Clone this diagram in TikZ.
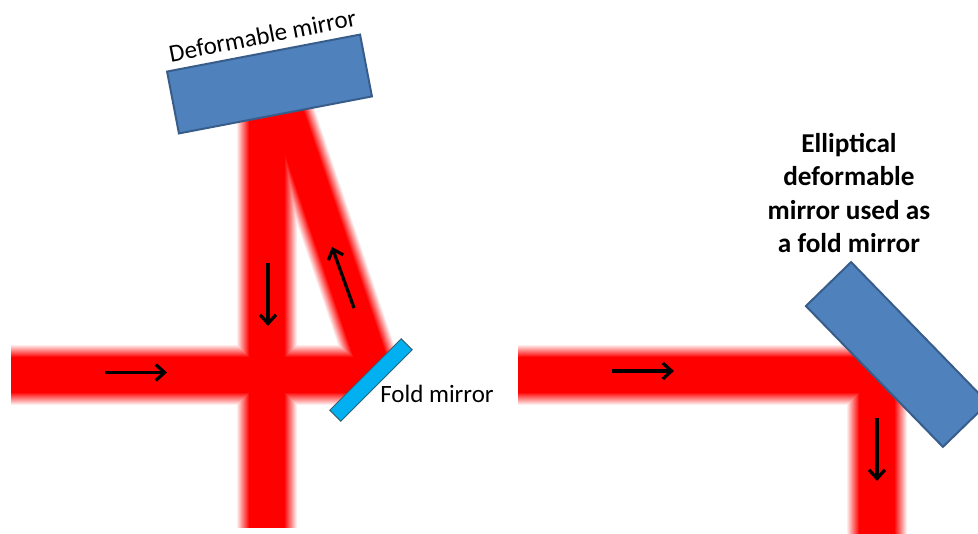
\documentclass[tikz,border=0pt]{standalone}
\usepackage{fontspec}
\setmainfont{Carlito}
\usetikzlibrary{arrows.meta}
\definecolor{mirrorblue}{HTML}{4F81BD}
\definecolor{mirroredge}{HTML}{385D8A}
\definecolor{foldblue}{HTML}{00B0F0}
\definecolor{foldedge}{HTML}{35606F}
\tikzset{
	bigmirror/.style={rectangle, draw=mirroredge, fill=mirrorblue, line width=0.04cm, inner sep=0pt, minimum width=3.93cm, minimum height=1.26cm},
	foldmirror/.style={rectangle, draw=foldedge, fill=foldblue, line width=0.02cm, inner sep=0pt, minimum width=2.02cm, minimum height=0.31cm},
	flow/.style={black, line width=0.065cm, -{Straight Barb[length=5pt, width=9pt, line width=0.065cm]}},
	label/.style={inner sep=0pt, font=\fontsize{14.2pt}{17pt}\selectfont},
	boldlabel/.style={inner sep=0pt, align=center, font=\fontsize{15.5pt}{19pt}\selectfont\bfseries}
}

\begin{document}
\begin{tikzpicture}
	\clip (0, 0) rectangle (19.56, 10.68);

	% beam ends
	\coordinate (inL) at (0.22, 3.18);
	\coordinate (hitL) at (7.60, 3.18);
	\coordinate (topV) at (5.34, 8.68);
	\coordinate (botV) at (5.34, 0.12);
	\coordinate (botS) at (7.56, 3.08);
	\coordinate (topS) at (5.60, 8.88);
	\coordinate (inR) at (10.36, 3.18);
	\coordinate (hitR) at (17.54, 3.18);
	\coordinate (botR) at (17.54, 0);

	% soft edged beams, light layers first
	\foreach \i in {0,...,12} {
		\pgfmathsetmacro{\wide}{1.2-0.04*\i}
		\pgfmathsetmacro{\thin}{1.06-0.035*\i}
		\pgfmathsetmacro{\tint}{100*(\i+1)/13}
		\begin{scope}
			\clip (0, 0) -- (0, 10.68) -- (9.6, 10.68) -- (9.6, 5.48) -- (6, 1.88) -- (6, 0) -- cycle;
			\draw[line width=\wide cm, red!\tint] (inL) -- (hitL);
			\draw[line width=\wide cm, red!\tint] (topV) -- (botV);
			\draw[line width=\thin cm, red!\tint] (botS) -- (topS);
		\end{scope}
		\draw[line width=\wide cm, red!\tint, miter limit=10] (inR) -- (hitR) -- (botR);
	}

	\node (dm)[bigmirror, rotate=10.85] at (5.39, 9.00) {};
	\node (fm)[foldmirror, rotate=45] at (7.42, 3.08) {};
	\node (edm)[bigmirror, rotate=-45.8] at (17.94, 3.59) {};

	\node (dmL)[label, rotate=11] at (5.25, 9.97) {Deformable mirror};
	\node (fmL)[label] at (8.74, 2.80) {Fold mirror};
	\node (edmL)[boldlabel] at (16.98, 6.82) {Elliptical\\deformable\\mirror used as\\a fold mirror};

	% direction arrows
	\coordinate (a1) at (2.10, 3.23);
	\coordinate (a2) at (3.34, 3.23);
	\coordinate (b1) at (12.24, 3.26);
	\coordinate (b2) at (13.48, 3.26);
	\coordinate (c1) at (5.36, 5.42);
	\coordinate (c2) at (5.36, 4.16);
	\coordinate (d1) at (7.08, 4.52);
	\coordinate (d2) at (6.64, 5.74);
	\coordinate (e1) at (17.54, 2.32);
	\coordinate (e2) at (17.54, 1.06);

	\draw[flow] (a1) -- (a2);
	\draw[flow] (b1) -- (b2);
	\draw[flow] (c1) -- (c2);
	\draw[flow] (d1) -- (d2);
	\draw[flow] (e1) -- (e2);
\end{tikzpicture}
\end{document}
